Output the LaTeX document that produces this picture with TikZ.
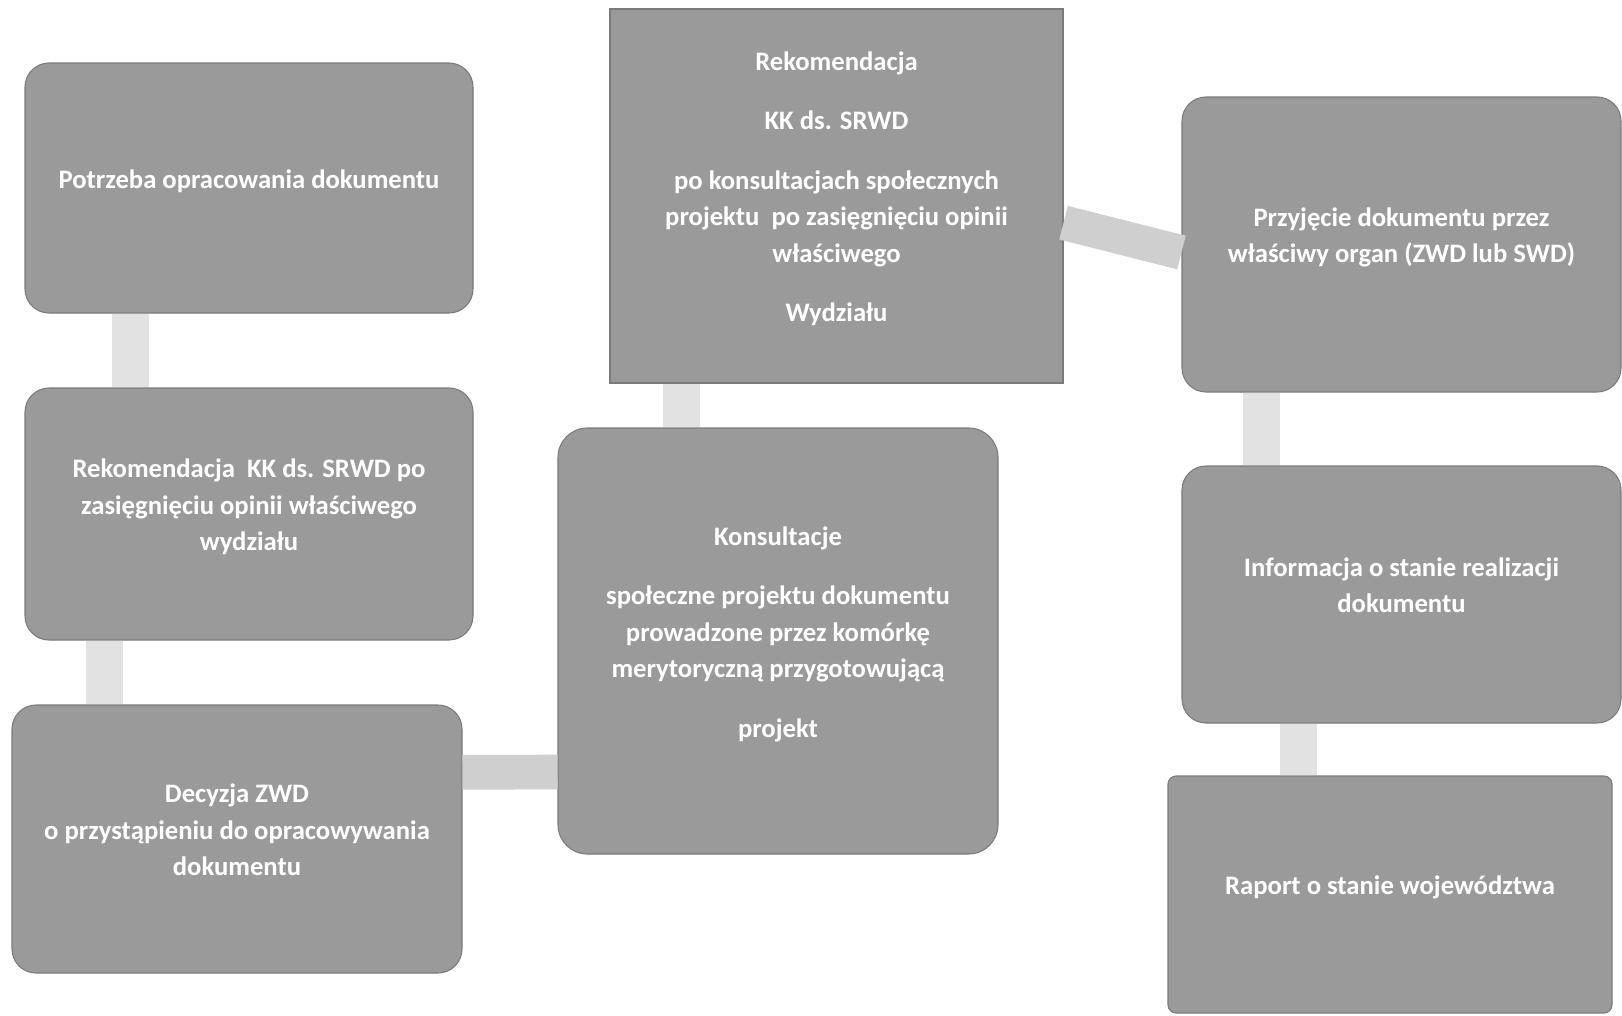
\documentclass[tikz,border=0pt]{standalone}
\usepackage{fontspec}
\setmainfont{Carlito}
\definecolor{boxgray}{HTML}{9A9A9A}
\definecolor{linklight}{HTML}{E2E2E2}
\definecolor{linkdark}{HTML}{CFCFCF}
\tikzset{
    stage/.style = {draw = boxgray!80!black, line width = 0.8pt, fill = boxgray,
        rounded corners = 18pt, text = white, align = center, inner sep = 0pt,
        font = \fontsize{20}{27.5}\selectfont\bfseries, text depth = 14pt},
    link/.style = {draw = linklight, line width = 28pt}
}
\newcommand{\gap}{\\[17pt]}
\begin{document}
\begin{tikzpicture}[x = 0.75pt, y = -0.75pt]
        \fill[white] (0,0) rectangle (1622,1015);
        % left column
        \node[stage, minimum width = 336pt, minimum height = 187.5pt] (potrzeba) at (249,188)
            {Potrzeba opracowania dokumentu};
        \node[stage, minimum width = 336pt, minimum height = 189pt] (rekomendacja) at (249,514)
            {Rekomendacja\ \ KK ds. SRWD po\\ zasięgnięciu opinii właściwego\\ wydziału};
        \node[stage, minimum width = 337.5pt, minimum height = 201pt] (decyzja) at (237,839)
            {Decyzja ZWD\\ o przystąpieniu do opracowywania\\ dokumentu};
        % middle column
        \node[stage, minimum width = 330pt, minimum height = 319.5pt, rounded corners = 22pt] (konsultacje) at (778,641)
            {Konsultacje\gap społeczne projektu dokumentu\\ prowadzone przez komórkę\\ merytoryczną przygotowującą\gap projekt};
        \node[stage, minimum width = 339.75pt, minimum height = 280.5pt, sharp corners] (rekomsrwd) at (836.5,196)
            {Rekomendacja\gap KK ds. SRWD\gap po konsultacjach społecznych\\ projektu\ \ po zasięgnięciu opinii\\ właściwego\gap Wydziału};
        % right column
        \node[stage, minimum width = 329.25pt, minimum height = 221.25pt] (przyjecie) at (1401.5,244.5)
            {Przyjęcie dokumentu przez\\ właściwy organ (ZWD lub SWD)};
        \node[stage, minimum width = 329.25pt, minimum height = 192.75pt] (informacja) at (1401.5,594.5)
            {Informacja o stanie realizacji\\ dokumentu};
        \node[stage, minimum width = 333pt, minimum height = 177.75pt, rounded corners = 6pt] (raport) at (1390,894.5)
            {Raport o stanie województwa};
        % connectors
        \begin{scope}[style = link]
            \draw ([xshift = 79.5pt]potrzeba.south west) -- ([xshift = 79.5pt]rekomendacja.north west);
            \draw ([xshift = 60pt]rekomendacja.south west) -- ([xshift = 69.75pt]decyzja.north west);
            \draw ([xshift = 93pt]konsultacje.north west) -- ([xshift = 54pt]rekomsrwd.south west);
            \draw ([xshift = 60pt]przyjecie.south west) -- ([xshift = 60pt]informacja.north west);
            \draw ([xshift = 87.75pt]informacja.south west) -- ([xshift = 98.25pt]raport.north west);
            \draw[draw = linkdark, line width = 26pt] ([yshift = 50pt]decyzja.east) -- ([yshift = -98.25pt]konsultacje.west);
            \draw[draw = linkdark, line width = 26pt] ([yshift = -20pt]rekomsrwd.east) -- ([yshift = -6pt]przyjecie.west);
        \end{scope}
    \end{tikzpicture}
\end{document}
